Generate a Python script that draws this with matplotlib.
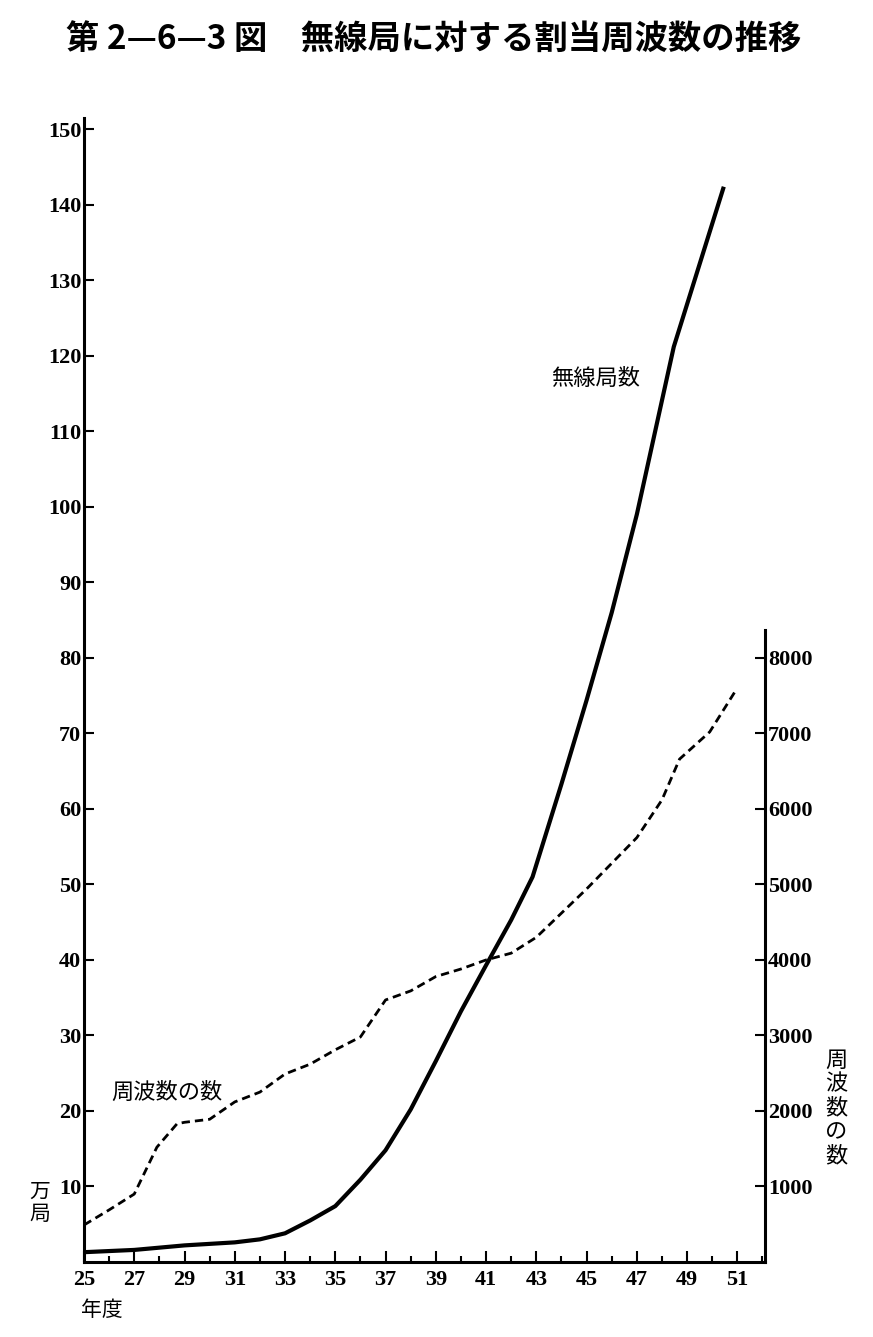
import matplotlib
matplotlib.use('Agg')
import matplotlib.pyplot as plt
from matplotlib.ticker import MultipleLocator, FixedLocator

plt.rcParams['font.family'] = ['Noto Sans CJK JP', 'DejaVu Sans']

# 無線局数 (万局)
st_year = [25, 27, 29, 31, 32, 33, 34, 35, 36, 37, 38, 39, 40, 41, 42, 42.85,
           44, 45, 46, 47, 48, 48.47, 50.46]
st_val = [1.3, 1.6, 2.2, 2.6, 3.0, 3.8, 5.5, 7.4, 10.9, 14.8, 20.2, 26.6, 33.2,
          39.3, 45.3, 51.0, 63.3, 74.4, 86.0, 99.0, 114.1, 121.2, 142.4]

# 周波数の数
fq_year = [25, 26, 27, 27.9, 28.7, 29, 30, 31, 32, 33, 34, 35, 36, 37, 38, 39,
           40, 41, 42, 43, 44, 45, 46, 47, 48, 48.7, 49.9, 50.9]
fq_val = [490, 690, 900, 1520, 1830, 1850, 1890, 2120, 2250, 2490, 2620, 2810,
          2980, 3470, 3590, 3780, 3880, 4000, 4090, 4300, 4620, 4940, 5280,
          5620, 6120, 6660, 7020, 7550]

x_ticks = list(range(25, 52, 2))
left_ticks = list(range(10, 151, 10))
right_ticks = list(range(1000, 8001, 1000))

NUM = dict(family='Liberation Serif', fontsize=16, fontweight='bold')

fig = plt.figure(figsize=(8.73, 13.37), dpi=100)
ax = fig.add_axes([84 / 873, 75 / 1337, 681 / 873, 1144 / 1337])
ax2 = ax.twinx()

ax.plot(st_year, st_val, color='black', lw=3.0, solid_capstyle='butt')
ax2.plot(fq_year, fq_val, color='black', lw=2.0, dashes=(3.0, 1.8))

ax.set_xlim(25, 52.1)
ax.set_ylim(0, 151.5)
ax2.set_ylim(0, 15150)

for a in (ax, ax2):
    a.spines['top'].set_visible(False)
    for s in a.spines.values():
        s.set_linewidth(2.2)
ax.spines['right'].set_visible(False)
ax2.spines['left'].set_visible(False)
ax2.spines['bottom'].set_visible(False)
ax2.spines['right'].set_bounds(0, 8370)

ax.xaxis.set_major_locator(FixedLocator(x_ticks))
ax.xaxis.set_minor_locator(MultipleLocator(1))
ax.set_xticklabels([str(v) for v in x_ticks], **NUM)
ax.tick_params(axis='x', which='major', direction='in', length=8, width=1.5, pad=6)
ax.tick_params(axis='x', which='minor', direction='in', length=4, width=1.5)

ax.set_yticks(left_ticks)
ax.set_yticklabels([str(v) for v in left_ticks], **NUM)
ax.tick_params(axis='y', direction='in', length=7, width=1.5, pad=2)

ax2.set_yticks(right_ticks)
ax2.set_yticklabels([str(v) for v in right_ticks], **NUM)
ax2.tick_params(axis='y', direction='in', length=7, width=1.5, pad=2)


def px(x, y):
    return (x / 873, 1 - y / 1337)


fig.text(*px(434, 40), '第 2—6—3 図　無線局に対する割当周波数の推移',
         ha='center', va='center', fontsize=24, fontweight='bold')
fig.text(*px(596, 378), '無線局数', ha='center', va='center', fontsize=16)
fig.text(*px(167, 1092), '周波数の数', ha='center', va='center', fontsize=16)
fig.text(*px(836, 1108), '周\n波\n数\nの\n数', ha='center', va='center',
         fontsize=16, linespacing=1.05)
fig.text(*px(40, 1203), '万\n局', ha='center', va='center', fontsize=15,
         linespacing=1.0)
fig.text(*px(102, 1310), '年度', ha='center', va='center', fontsize=15)

fig.savefig('out.png', dpi=100, facecolor='white')
